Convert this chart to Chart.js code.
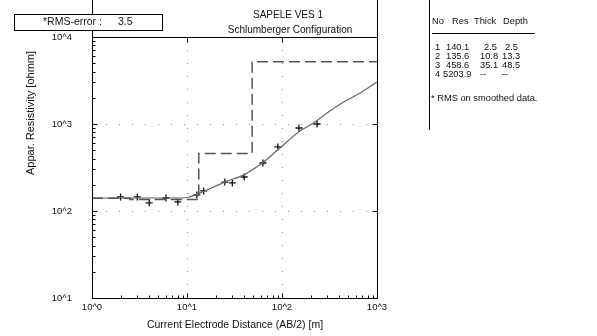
<!DOCTYPE html>
<html>
<head>
<meta charset="utf-8">
<script src="https://cdn.jsdelivr.net/npm/chart.js@4"></script>
<style>
html,body{margin:0;padding:0;background:#fff;}
#wrap{position:relative;width:597px;height:336px;}
</style>
</head>
<body>
<div id="wrap"><canvas id="c" width="597" height="336"></canvas></div>
<script>
// ---- data ----
const spacing = [2, 3, 4, 6, 8, 12.7, 15, 25, 30, 40, 63, 90.5, 151, 234];
const measured = [145, 145, 124, 141, 127, 153, 170, 215, 210, 246, 356, 545, 900, 1000];
const curveX = [1, 2, 3, 5, 8, 10, 12, 15, 25, 40, 63, 90.5, 154.5, 212, 300, 408, 663, 1000];
const curveRho = [141, 141, 141, 141, 141, 143, 151, 168, 215, 262, 360, 505, 830, 1020, 1350, 1690, 2270, 3040];
const layerNo = ['1', '2', '3', '4'];
const layerRes = [140.1, 135.6, 458.6, 5203.9];
const layerThick = ['2.5', '10.8', '35.1', '--'];
const layerDepth = [2.5, 13.3, 48.5];
const layerDepthText = ['2.5', '13.3', '48.5', '--'];
const xTickLabels = ['10^0', '10^1', '10^2', '10^3'];
const yTickLabels = ['10^1', '10^2', '10^3', '10^4'];
const xTickValues = [1, 10, 100, 1000];
const yTickValues = [10, 100, 1000, 10000];
const rmsError = '3.5';

// model step line built from layer arrays
const modelPts = [];
let prevX = 1;
for (let i = 0; i < layerRes.length; i++) {
  const endX = i < layerDepth.length ? layerDepth[i] : 1000;
  modelPts.push({x: prevX, y: layerRes[i]});
  modelPts.push({x: endX, y: layerRes[i]});
  prevX = endX;
}
const curvePts = curveX.map((x, i) => ({x, y: curveRho[i]}));
const measPts = spacing.map((x, i) => ({x, y: measured[i]}));

const FONT = '"Liberation Sans", Arial, sans-serif';

const decor = {
  id: 'decor',
  afterDatasetsDraw(chart) {
    const ctx = chart.ctx, a = chart.chartArea;
    const xs = chart.scales.x, ys = chart.scales.y;
    ctx.save();
    ctx.setLineDash([]);
    ctx.strokeStyle = '#000';
    ctx.lineWidth = 1;
    const L = Math.round(a.left) + 0.5, R = Math.round(a.right) + 0.5;
    const T = Math.round(a.top) + 0.5, B = Math.round(a.bottom) + 0.5;
    // frame, verticals extend to top of page
    ctx.beginPath();
    ctx.moveTo(L, 0); ctx.lineTo(L, B);
    ctx.moveTo(R, 0); ctx.lineTo(R, B);
    ctx.moveTo(L, T); ctx.lineTo(R, T);
    ctx.moveTo(L, B); ctx.lineTo(R, B);
    ctx.stroke();
    // ticks
    ctx.beginPath();
    for (let e = 0; e < 3; e++) {
      for (let m = 1; m <= 9; m++) {
        const v = m * Math.pow(10, e);
        const px = Math.round(xs.getPixelForValue(v)) + 0.5;
        const len = m === 1 ? 5 : 3;
        ctx.moveTo(px, B); ctx.lineTo(px, B - len);
        if (m === 1) { ctx.moveTo(px, T); ctx.lineTo(px, T + len); }
      }
    }
    for (let e = 1; e < 4; e++) {
      for (let m = 1; m <= 9; m++) {
        const v = m * Math.pow(10, e);
        const py = Math.round(ys.getPixelForValue(v)) + 0.5;
        const len = m === 1 ? 5 : 3;
        ctx.moveTo(L, py); ctx.lineTo(L + len, py);
        if (m === 1) { ctx.moveTo(R, py); ctx.lineTo(R - len, py); }
      }
    }
    ctx.stroke();

    // RMS box
    ctx.fillStyle = '#fff';
    ctx.fillRect(14, 14, 148, 16);
    ctx.strokeRect(14.5, 14.5, 148, 16);
    ctx.fillStyle = '#111';
    ctx.font = '10.5px ' + FONT;
    ctx.textAlign = 'left';
    ctx.textBaseline = 'middle';
    ctx.fillText('*RMS-error :', 43, 22.5);
    ctx.fillText(rmsError, 118, 22.5);

    // title
    ctx.textAlign = 'center';
    ctx.font = '10px ' + FONT;
    ctx.fillText('SAPELE VES 1', 288, 15);
    ctx.fillText('Schlumberger Configuration', 290, 30);

    // axis titles
    ctx.font = '10.5px ' + FONT;
    ctx.fillText('Current Electrode Distance (AB/2) [m]', 235, 325);
    ctx.save();
    ctx.translate(31, 113);
    ctx.rotate(-Math.PI / 2);
    ctx.font = '11px ' + FONT;
    ctx.fillText('Appar. Resistivity [ohmm]', 0, 0);
    ctx.restore();

    // layer table
    ctx.beginPath();
    ctx.moveTo(429.5, 0); ctx.lineTo(429.5, 130);
    ctx.moveTo(432, 33.5); ctx.lineTo(535, 33.5);
    ctx.stroke();
    ctx.textAlign = 'left';
    ctx.font = '9.3px ' + FONT;
    ctx.fillText('No', 432, 21);
    ctx.fillText('Res', 452, 21);
    ctx.fillText('Thick', 474, 21);
    ctx.fillText('Depth', 503, 21);
    const rowY = [47, 56, 65, 74];
    for (let i = 0; i < layerRes.length; i++) {
      ctx.fillText(layerNo[i], 435, rowY[i]);
      ctx.fillText(layerRes[i].toFixed(1), i === 3 ? 443 : 446, rowY[i]);
      ctx.fillText(layerThick[i], i === 0 ? 484 : 480, rowY[i]);
      ctx.fillText(layerDepthText[i], i === 0 ? 505 : 502, rowY[i]);
    }
    ctx.fillText('* RMS on smoothed data.', 431, 98);
    ctx.restore();
  }
};

new Chart(document.getElementById('c'), {
  type: 'scatter',
  data: {
    datasets: [
      {
        label: 'model',
        data: modelPts,
        showLine: true,
        borderColor: '#555',
        borderWidth: 1.5,
        borderDash: [11, 5],
        pointRadius: 0,
        fill: false
      },
      {
        label: 'calculated',
        data: curvePts,
        showLine: true,
        borderColor: '#666',
        borderWidth: 1.2,
        cubicInterpolationMode: 'monotone',
        pointRadius: 0,
        fill: false
      },
      {
        label: 'field',
        data: measPts,
        showLine: false,
        pointStyle: 'cross',
        pointRadius: 3.5,
        borderColor: '#111',
        borderWidth: 1.3,
        backgroundColor: '#111'
      }
    ]
  },
  options: {
    responsive: false,
    animation: false,
    layout: {padding: {left: 0, top: 37, right: 220, bottom: 0}},
    plugins: {legend: {display: false}, tooltip: {enabled: false}},
    scales: {
      x: {
        type: 'logarithmic',
        min: 1, max: 1000,
        afterFit(s) { s.height = 38; },
        afterBuildTicks(s) { s.ticks = xTickValues.map(v => ({value: v, major: true})); },
        ticks: {
          autoSkip: false, maxRotation: 0, padding: 4,
          color: '#111', font: {family: FONT, size: 9.5},
          callback: (v) => { const i = xTickValues.indexOf(v); return i >= 0 ? xTickLabels[i] : ''; }
        },
        grid: {drawTicks: false, color: '#888', lineWidth: 1},
        border: {display: true, color: '#000', width: 1, dash: [1, 12]}
      },
      y: {
        type: 'logarithmic',
        min: 10, max: 10000,
        afterFit(s) { s.width = 92; },
        afterBuildTicks(s) { s.ticks = yTickValues.map(v => ({value: v, major: true})); },
        ticks: {
          autoSkip: false, padding: 20,
          color: '#111', font: {family: FONT, size: 9.5},
          callback: (v) => { const i = yTickValues.indexOf(v); return i >= 0 ? yTickLabels[i] : ''; }
        },
        grid: {drawTicks: false, color: '#888', lineWidth: 1},
        border: {display: true, color: '#000', width: 1, dash: [1, 12]}
      }
    }
  },
  plugins: [decor]
});
</script>
</body>
</html>
